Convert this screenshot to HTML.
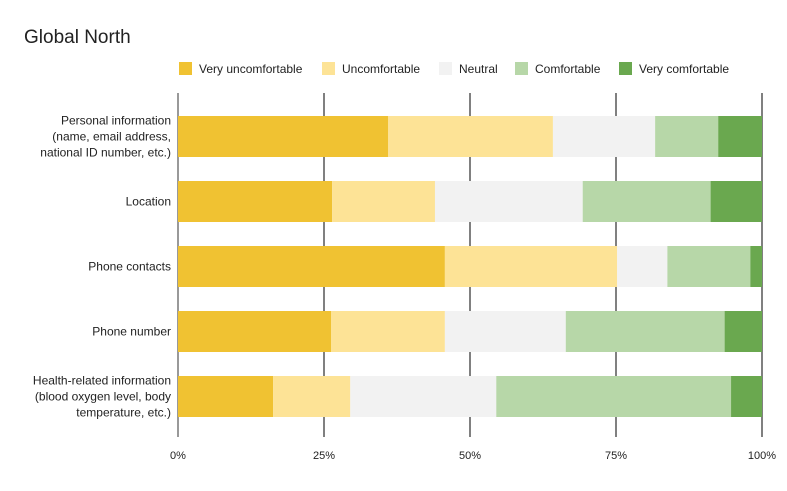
<!DOCTYPE html>
<html><head><meta charset="utf-8"><style>
body{margin:0;background:#fff;font-family:"Liberation Sans",sans-serif}
svg text{font-family:"Liberation Sans",sans-serif}
</style></head><body>
<svg id="c" width="787" height="486">
<text x="24" y="43" font-size="19" fill="#222">Global North</text>
</svg>
<script>
const categories=[["Personal information","(name, email address,","national ID number, etc.)"],["Location"],["Phone contacts"],["Phone number"],["Health-related information","(blood oxygen level, body","temperature, etc.)"]];
const seriesNames=["Very uncomfortable","Uncomfortable","Neutral","Comfortable","Very comfortable"];
const veryUncomfortable=[36,26.4,45.7,26.2,16.3];
const uncomfortable=[28.2,17.6,29.5,19.5,13.2];
const neutral=[17.5,25.3,8.6,20.7,25.0];
const comfortable=[10.8,21.9,14.2,27.2,40.2];
const veryComfortable=[7.5,8.8,2.0,6.4,5.3];
const ticks=[0,25,50,75,100];
const tickLabels=["0%","25%","50%","75%","100%"];
const colors=["#f0c232","#fde396","#f2f2f2","#b7d7a8","#6aa84f"];
const series=[veryUncomfortable,uncomfortable,neutral,comfortable,veryComfortable];
const svg=document.getElementById('c');const NS="http://www.w3.org/2000/svg";
const x=v=>178+v/100*584;
const y=i=>116+i*65;
function mk(t,a){const e=document.createElementNS(NS,t);for(const k in a)e.setAttribute(k,a[k]);svg.appendChild(e);return e;}
// legend
const lx=[179,322,439,515,619];
seriesNames.forEach((n,i)=>{
 const r=mk('rect',{x:lx[i],y:62,width:13,height:13,fill:colors[i]});
 
 
 const t=mk('text',{x:lx[i]+20,y:73,'font-size':12,fill:'#222'});t.textContent=n;
 
 
});
// gridlines & ticks
ticks.forEach((v,i)=>{
 const l=mk('line',{x1:x(v),x2:x(v),y1:93,y2:437,stroke:i==0?'#333':'#000','stroke-width':1});
 
 
 const t=mk('text',{x:x(v),y:459,'font-size':11,fill:'#222','text-anchor':'middle'});t.textContent=tickLabels[i];
 
 
});
// bars
categories.forEach((c,i)=>{
 let acc=0;
 series.forEach((s,j)=>{
  const v=s[i];
  const r=mk('rect',{x:x(acc),y:y(i),width:x(acc+v)-x(acc),height:41,fill:colors[j]});
  
  
  acc+=v;
 });
 const n=c.length;
 c.forEach((line,k)=>{
  const t=mk('text',{x:171,y:y(i)+20.5+(k-(n-1)/2)*16+4,'font-size':12,fill:'#222','text-anchor':'end'});
  t.textContent=line;
  
  
 });
});
</script>
</body></html>
